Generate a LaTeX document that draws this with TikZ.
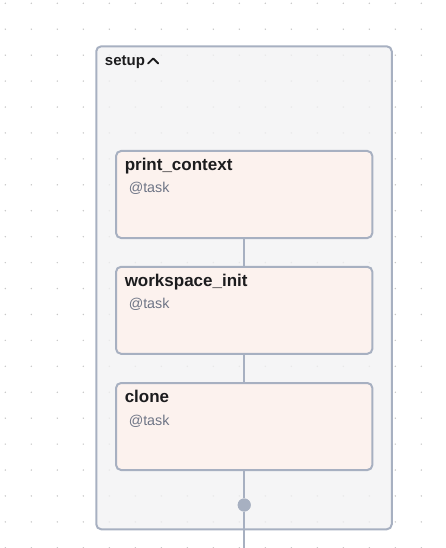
\documentclass[tikz,border=0pt]{standalone}
\usepackage{fontspec}
\setmainfont{Liberation Sans}
\usepackage{tikz}
\usetikzlibrary{calc,positioning}

\definecolor{edgegray}{HTML}{A7B0C1}
\definecolor{groupbg}{HTML}{F2F2F3}
\definecolor{taskbg}{HTML}{FCF2EE}
\definecolor{titleink}{HTML}{1C1C1E}
\definecolor{subink}{HTML}{6E7586}
\definecolor{griddot}{HTML}{C6C6C6}

\tikzset{
  group/.style={rectangle, draw=edgegray, line width=2pt, rounded corners=5pt,
    fill=groupbg, fill opacity=0.78, minimum width=295.5pt, minimum height=483pt, inner sep=0pt},
  task/.style={rectangle, draw=edgegray, line width=2pt, rounded corners=5pt,
    fill=taskbg, minimum width=256.3pt, minimum height=87pt, inner sep=0pt},
  tasktitle/.style={anchor=base west, inner sep=0pt, text=titleink,
    font=\fontsize{17}{20}\selectfont\bfseries},
  tasksub/.style={anchor=base west, inner sep=0pt, text=subink,
    font=\fontsize{14.3}{17}\selectfont},
  grouptitle/.style={anchor=base west, inner sep=0pt, text=titleink,
    font=\fontsize{15}{18}\selectfont\bfseries},
  link/.style={draw=edgegray, line width=2pt},
  handle/.style={circle, fill=edgegray, minimum size=13pt, inner sep=0pt}
}

\begin{document}
\begin{tikzpicture}[x=1pt, y=-1pt]
  \useasboundingbox (0,0) rectangle (446,548);

  % background dots
  \foreach \i in {0,...,17}
    \foreach \j in {0,...,21}
      \fill[griddot] (5.3+26*\i, 3.3+25.93*\j) circle (0.8pt);

  % group box
  \node[group] (setup) at (244,287.8) {};
  \node[grouptitle] (setuplabel) at ($(setup.north west)+(9.5,20.6)$) {setup};
  \draw[titleink, line width=1.9pt, line cap=round, line join=round]
    ($(setuplabel.base east)+(3,-2.4)$) -- ++(5,-5) -- ++(5,5);

  % tasks
  \node[task] (printctx) at (244.2,194.5) {};
  \node[task] (wsinit) at (244.2,310.3) {};
  \node[task] (clone) at (244.2,426.5) {};

  \node[tasktitle] (printctxname) at ($(printctx.north west)+(9.5,20.5)$) {print\_context};
  \node[tasksub] (printctxkind) at ($(printctx.north west)+(13.5,43)$) {@task};
  \node[tasktitle] (wsinitname) at ($(wsinit.north west)+(9.5,20.5)$) {workspace\_init};
  \node[tasksub] (wsinitkind) at ($(wsinit.north west)+(13.5,43)$) {@task};
  \node[tasktitle] (clonename) at ($(clone.north west)+(9.5,20.5)$) {clone};
  \node[tasksub] (clonekind) at ($(clone.north west)+(13.5,43)$) {@task};

  % connectors
  \coordinate (out) at (244.2,548);
  \node[handle] (setupout) at (244.2,505) {};
  \path[link]
    (printctx) -- (wsinit)
    (wsinit) -- (clone)
    (clone) -- (setupout)
    (setupout) -- (out);
  \node[handle] at (setupout) {};
\end{tikzpicture}
\end{document}
